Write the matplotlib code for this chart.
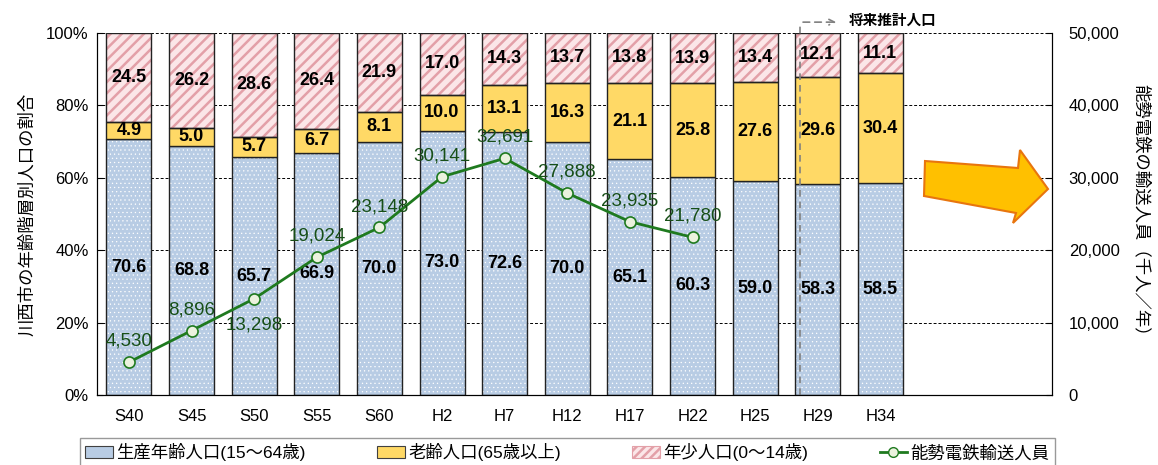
import matplotlib
matplotlib.use('Agg')
import numpy as np
import matplotlib.pyplot as plt
from matplotlib.patches import Patch, Polygon
from matplotlib.lines import Line2D

plt.rcParams['font.family'] = ['Liberation Sans', 'Noto Sans CJK JP']

# data
years = ['S40', 'S45', 'S50', 'S55', 'S60', 'H2', 'H7', 'H12', 'H17',
         'H22', 'H25', 'H29', 'H34']
working = [70.6, 68.8, 65.7, 66.9, 70.0, 73.0, 72.6, 70.0, 65.1, 60.3, 59.0, 58.3, 58.5]
elderly = [4.9, 5.0, 5.7, 6.7, 8.1, 10.0, 13.1, 16.3, 21.1, 25.8, 27.6, 29.6, 30.4]
young = [24.5, 26.2, 28.6, 26.4, 21.9, 17.0, 14.3, 13.7, 13.8, 13.9, 13.4, 12.1, 11.1]
riders = [4530, 8896, 13298, 19024, 23148, 30141, 32691, 27888, 23935, 21780]
rider_label_below = [False, False, True, False, False, False, False, False, False, False]

blue = '#B8CCE4'
yellow = '#FFD966'
pink_face = '#FBE6E8'
pink_hatch = '#E3A0A8'
green = '#1F7A1F'
dark_green = '#174F17'

fig = plt.figure(figsize=(11.58, 4.65), dpi=100)
ax = fig.add_axes([97 / 1158, 70 / 465, 955 / 1158, 362 / 465])

x = np.arange(len(years))
w = 0.72
bottom2 = np.array(working) + np.array(elderly)

# gridlines behind bars
for g in [20, 40, 60, 80, 100]:
    ax.axhline(g, color='black', lw=0.7, ls=(0, (3, 2)), zorder=0)

plt.rcParams['hatch.linewidth'] = 0.4
ax.bar(x, working, w, color=blue, edgecolor='white', hatch='....', lw=0, zorder=2)
plt.rcParams['hatch.linewidth'] = 1.8
ax.bar(x, young, w, bottom=bottom2, color=pink_face, edgecolor=pink_hatch, hatch='///', lw=0, zorder=2)
ax.bar(x, working, w, fill=False, edgecolor='#222222', lw=1, zorder=3)
ax.bar(x, elderly, w, bottom=working, color=yellow, edgecolor='#222222', lw=1, zorder=3)
ax.bar(x, young, w, bottom=bottom2, fill=False, edgecolor='#222222', lw=1, zorder=3)

for i in range(len(years)):
    for val, base in [(working[i], 0), (elderly[i], working[i]), (young[i], bottom2[i])]:
        ax.text(x[i], base + val / 2, f'{val:.1f}', ha='center', va='center',
                fontsize=13, fontweight='bold', zorder=5)

ax.set_xlim(-0.51, 14.74)
ax.set_ylim(0, 100)
ax.set_yticks([0, 20, 40, 60, 80, 100])
ax.set_yticklabels([f'{v}%' for v in [0, 20, 40, 60, 80, 100]], fontsize=12)
ax.set_xticks(x)
ax.set_xticklabels(years, fontsize=12)
ax.tick_params(axis='x', length=0, pad=10)
ax.tick_params(axis='y', direction='in', length=4, pad=6)
ax.spines['top'].set_visible(False)
ax.set_ylabel('川西市の年齢階層別人口の割合', fontsize=12.5, labelpad=8)

# right axis: riders
ax2 = ax.twinx()
ax2.set_ylim(0, 50000)
ax2.set_yticks([0, 10000, 20000, 30000, 40000, 50000])
ax2.set_yticklabels([f'{v:,}' for v in [0, 10000, 20000, 30000, 40000, 50000]], fontsize=12)
ax2.tick_params(axis='y', direction='in', length=4, pad=12)
ax2.spines['top'].set_visible(False)
ax2.set_ylabel('能勢電鉄の輸送人員（千人／年）', fontsize=12.5, rotation=270, labelpad=22)
ax2.plot(x[:len(riders)], riders, color=green, lw=2, marker='o', ms=8,
         mfc='#EBF2DE', mec=green, mew=1.2, zorder=6)
for i, v in enumerate(riders):
    dy = -19 if rider_label_below[i] else 15
    ax2.annotate(f'{v:,}', (x[i], v), xytext=(0, dy), textcoords='offset points',
                 ha='center', va='center', fontsize=13.5, color=dark_green, zorder=7)

# projection marker
ax.plot([10.72, 10.72], [0, 103], color='#808080', lw=1.2, ls=(0, (4, 3)),
        clip_on=False, zorder=4)
ax.annotate('', xy=(11.34, 103), xytext=(10.72, 103), xycoords='data',
            arrowprops=dict(arrowstyle='->', color='#808080', lw=1.2, ls=(0, (4, 3))),
            annotation_clip=False)
ax.text(11.5, 103.3, '将来推計人口', fontsize=10.5, fontweight='bold',
        va='center', ha='left', clip_on=False)

# big orange arrow
pts = [(925, 161), (1018, 168), (1020, 150), (1048, 189), (1013, 223), (1016, 213), (924, 196)]
arrow = Polygon([(px / 1158, 1 - py / 465) for px, py in pts], closed=True,
                transform=fig.transFigure, facecolor='#FFC000', edgecolor='#E8750E', lw=1.5,
                zorder=10)
fig.patches.append(arrow)

# legend
handles = [
    Patch(facecolor=blue, edgecolor='#404040', lw=0.8),
    Patch(facecolor=yellow, edgecolor='#404040', lw=0.8),
    Patch(facecolor=pink_face, edgecolor=pink_hatch, hatch='////', lw=0.8),
    Line2D([], [], color=green, lw=2, marker='o', ms=7, mfc='#EBF2DE', mec=green),
]
labels = ['生産年齢人口(15～64歳)', '老齢人口(65歳以上)', '年少人口(0～14歳)', '能勢電鉄輸送人員']
leg = fig.legend(handles, labels, loc='upper left', ncol=4, mode='expand',
                 bbox_to_anchor=(80 / 1158, -0.2, 975 / 1158, 0.258),
                 fontsize=12.5, frameon=True, fancybox=False, edgecolor='#808080',
                 handlelength=1.6, handletextpad=0.2, columnspacing=2.5, borderaxespad=0.0,
                 borderpad=0.3)
leg.get_frame().set_linewidth(1)

fig.savefig('out.png', dpi=100)
